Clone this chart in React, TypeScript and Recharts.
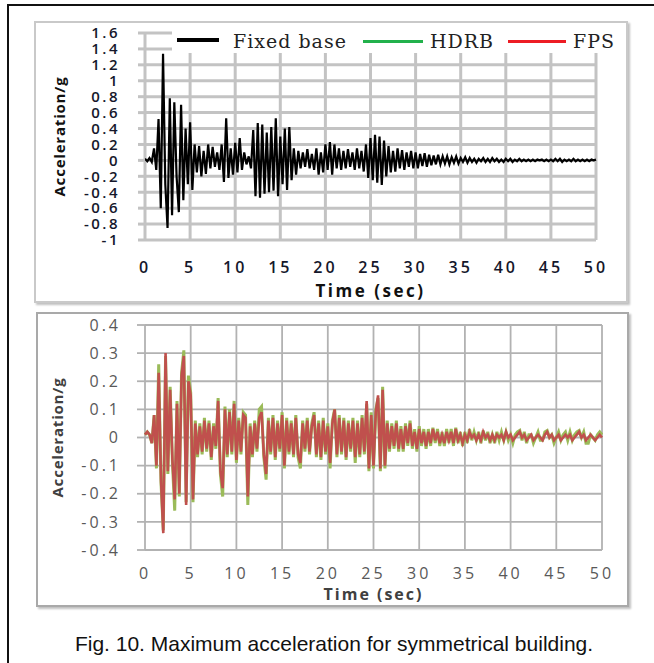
import React from 'react';
import { LineChart, Line, XAxis, YAxis, CartesianGrid } from 'recharts';

// records are sampled every 0.25 s, from 0 to 50 s
const DT = 0.25;

// Fixed base acceleration (g), 4 samples per second
const fixedBase = [
    0.02, -0.01, 0.03, -0.02,
    0.15, -0.12, 0.52, -0.6,
    1.34, -0.3, -0.85, 0.78,
    -0.69, 0.73, -0.2, -0.65,
    0.7, -0.5, 0.4, -0.3,
    0.48, -0.37, 0.2, -0.15,
    0.18, -0.2, 0.12, -0.17,
    0.2, -0.1, 0.17, -0.08,
    0.1, -0.12, 0.2, -0.27,
    0.53, -0.22, 0.15, -0.18,
    0.22, -0.15, 0.28, -0.12,
    0.1, -0.05, 0.05, -0.1,
    0.38, -0.45, 0.47, -0.47,
    0.45, -0.42, 0.35, -0.4,
    0.42, -0.38, 0.53, -0.45,
    0.3, -0.3, 0.4, -0.37,
    0.42, -0.25, 0.15, -0.18,
    0.12, -0.1, 0.1, -0.08,
    0.14, -0.1, 0.08, -0.12,
    0.15, -0.18, 0.1, -0.15,
    0.2, -0.12, 0.23, -0.18,
    0.2, -0.1, 0.15, -0.12,
    0.12, -0.1, 0.14, -0.08,
    0.1, -0.12, 0.15, -0.1,
    0.12, -0.14, 0.2, -0.22,
    0.28, -0.25, 0.32, -0.28,
    0.3, -0.31, 0.25, -0.2,
    0.18, -0.15, 0.12, -0.14,
    0.15, -0.1, 0.13, -0.12,
    0.1, -0.08, 0.12, -0.1,
    0.1, -0.1, 0.08, -0.07,
    0.09, -0.08, 0.07, -0.06,
    0.06, -0.05, 0.07, -0.05,
    0.05, -0.04, 0.05, -0.05,
    0.04, -0.03, 0.05, -0.04,
    0.03, -0.02, 0.04, -0.03,
    0.03, -0.02, 0.02, -0.03,
    0.02, -0.01, 0.03, -0.02,
    0.02, -0.02, 0.03, -0.01,
    0.02, -0.02, 0.01, -0.02,
    0.02, -0.01, 0.02, -0.02,
    0.01, -0.01, 0.02, -0.01,
    0.01, -0.01, 0.01, -0.01,
    0.01, -0.01, 0.01, 0,
    0.01, -0.01, 0.01, -0.01,
    0.01, -0.01, 0.02, -0.01,
    0.02, -0.02, 0.01, -0.01,
    0.01, -0.01, 0.02, -0.01,
    0.01, -0.01, 0.01, -0.01,
    0.01, -0.01, 0.01, 0,
    0.01,
];

// HDRB isolated building
const hdrb = [
    0.01, 0.02, 0.01, -0.02,
    0.08, -0.11, 0.26, -0.16,
    -0.33, 0.29, -0.13, 0.18,
    -0.09, -0.26, 0.13, -0.21,
    0.23, 0.31, -0.23, 0.22,
    0.16, -0.23, 0.06, -0.07,
    0.05, -0.06, 0.07, -0.05,
    0.06, -0.08, 0.05, -0.04,
    0.14, -0.13, -0.21, 0.11,
    -0.07, 0.1, -0.06, 0.13,
    -0.09, 0.07, -0.06, 0.09,
    0.08, -0.24, 0.05, -0.07,
    0.06, -0.05, 0.1, 0.11,
    -0.07, -0.15, 0.07, -0.06,
    0.08, -0.08, 0.06, -0.05,
    0.09, -0.11, 0.07, -0.06,
    0.06, -0.07, 0.08, -0.07,
    -0.11, 0.06, -0.05, 0.07,
    -0.06, 0.05, 0.09, -0.07,
    0.06, -0.08, 0.07, -0.06,
    0.05, -0.11, 0.06, 0.1,
    -0.07, 0.08, -0.06, 0.07,
    -0.08, 0.06, -0.05, 0.07,
    -0.09, 0.06, -0.07, 0.08,
    -0.06, 0.12, -0.12, 0.09,
    -0.11, 0.1, 0.14, -0.12,
    0.18, -0.11, 0.06, -0.05,
    0.05, -0.04, 0.06, -0.05,
    0.04, -0.05, 0.05, -0.03,
    0.06, -0.04, 0.03, -0.05,
    0.04, -0.03, 0.03, -0.04,
    0.03, -0.03, 0.035, -0.02,
    0.03, -0.03, 0.02, -0.03,
    0.03, -0.02, 0.03, -0.03,
    0.035, -0.02, 0.02, -0.03,
    0.02, -0.02, 0.03, -0.01,
    0.02, -0.01, 0.02, -0.02,
    0.025, -0.01, 0.02, -0.02,
    0.01, -0.02, 0.02, -0.01,
    0.02, -0.01, 0.02, -0.01,
    0.01, -0.02, 0.01, 0.02,
    0.025, -0.01, 0.02, -0.02,
    0.01, 0.01, -0.02, 0,
    0.02, -0.01, -0.01, 0.02,
    0.025, 0, 0.01, -0.02,
    0, 0.02, -0.01, 0.01,
    0.02, -0.01, 0.02, -0.01,
    0.01, 0.02, 0.025, 0,
    0.02, -0.02, -0.02, 0.01,
    0, -0.01, 0.01, 0.02,
    0.01,
];

// FPS isolated building
const fps = [
    0.01, 0.02, 0.01, -0.02,
    0.08, -0.1, 0.23, -0.15,
    -0.34, 0.3, -0.12, 0.17,
    -0.08, -0.22, 0.12, -0.2,
    0.22, 0.29, -0.24, 0.2,
    0.15, -0.22, 0.05, -0.06,
    0.04, -0.05, 0.06, -0.04,
    0.05, -0.07, 0.04, -0.03,
    0.13, -0.12, -0.18, 0.1,
    -0.06, 0.09, -0.05, 0.12,
    -0.08, 0.06, -0.05, 0.08,
    0.07, -0.21, 0.04, -0.06,
    0.05, -0.04, 0.07, 0.09,
    -0.06, -0.13, 0.06, -0.05,
    0.07, -0.07, 0.05, -0.04,
    0.08, -0.1, 0.06, -0.05,
    0.05, -0.06, 0.07, -0.06,
    -0.09, 0.05, -0.04, 0.06,
    -0.05, 0.04, 0.08, -0.06,
    0.05, -0.07, 0.06, -0.05,
    0.04, -0.09, 0.05, 0.1,
    -0.06, 0.07, -0.05, 0.06,
    -0.07, 0.05, -0.04, 0.06,
    -0.07, 0.05, -0.06, 0.07,
    -0.05, 0.13, -0.11, 0.08,
    -0.1, 0.09, 0.15, -0.11,
    0.17, -0.1, 0.05, -0.04,
    0.04, -0.03, 0.05, -0.04,
    0.03, -0.04, 0.04, -0.02,
    0.05, -0.03, 0.02, -0.04,
    0.03, -0.02, 0.02, -0.03,
    0.02, -0.02, 0.03, -0.01,
    0.02, -0.02, 0.01, -0.02,
    0.02, -0.01, 0.02, -0.02,
    0.03, -0.01, 0.01, -0.02,
    0.01, -0.01, 0.02, 0,
    0.01, -0.01, 0.01, -0.01,
    0.02, 0, 0.01, -0.01,
    0.01, -0.01, 0.01, 0,
    0.01, -0.01, 0.02, 0,
    0.01, -0.01, 0, 0.01,
    0.02, 0, 0.01, -0.01,
    0, 0.01, -0.01, 0,
    0.01, 0, -0.01, 0.01,
    0.02, 0, 0.01, -0.01,
    0, 0.01, -0.01, 0,
    0.01, 0, 0.01, -0.01,
    0, 0.01, 0.02, 0,
    0.01, -0.01, 0, 0.01,
    0, -0.01, 0, 0.01,
    0,
];

const timeTicks = [0, 5, 10, 15, 20, 25, 30, 35, 40, 45, 50];
const topTicks = [-1, -0.8, -0.6, -0.4, -0.2, 0, 0.2, 0.4, 0.6, 0.8, 1, 1.2, 1.4, 1.6];
const bottomTicks = [-0.4, -0.3, -0.2, -0.1, 0, 0.1, 0.2, 0.3, 0.4];

const topData = fixedBase.map((v, i) => ({ t: i * DT, fixed: v }));
const bottomData = hdrb.map((v, i) => ({ t: i * DT, hdrb: v, fps: fps[i] }));

const fmt = (v: number) => String(parseFloat(v.toFixed(1)));

const SANS = '"Open Sans", "DejaVu Sans", sans-serif';
const SERIF = '"DejaVu Serif", serif';

const abs = (left: number, top: number, width: number, height: number): React.CSSProperties => ({
    position: 'absolute', left, top, width, height,
});

const App = () => {
    return (
        <div style={{ ...abs(0, 0, 654, 663), overflow: 'hidden', background: '#fff' }}>
            {/* figure frame */}
            <div style={{ ...abs(7, 4, 700, 700), border: '2px solid #111' }} />

            {/* top panel: fixed base */}
            <div style={{ ...abs(34, 21, 594, 282), boxSizing: 'border-box', border: '2px solid #c9c9c9', boxShadow: '2px 2px 2px rgba(0,0,0,0.25)' }} />
            <div style={abs(34, 21, 594, 282)}>
                <LineChart width={594} height={282} data={topData} margin={{ top: 12, right: 32, left: 0, bottom: 0 }}>
                    <CartesianGrid stroke="#c3c3c3" strokeWidth={3} />
                    <XAxis
                        type="number"
                        dataKey="t"
                        domain={[0, 50]}
                        ticks={timeTicks}
                        interval={0}
                        axisLine={false}
                        tickLine={false}
                        tickSize={0}
                        tickMargin={22}
                        height={63}
                        tick={{ fill: '#15172b', fontSize: 16, fontWeight: 600, fontFamily: SANS, letterSpacing: 3 }}
                        label={{ value: 'Time (sec)', position: 'insideBottom', offset: 6, style: { fontWeight: 700, fontSize: 17, fontFamily: SANS, fill: '#111', letterSpacing: 2.5 } }}
                    />
                    <YAxis
                        type="number"
                        domain={[-1, 1.6]}
                        ticks={topTicks}
                        interval={0}
                        tickFormatter={fmt}
                        axisLine={false}
                        tickLine={{ stroke: '#c3c3c3', strokeWidth: 3 }}
                        tickSize={7}
                        tickMargin={18}
                        width={111}
                        tick={{ fill: '#15172b', fontSize: 15, fontWeight: 600, fontFamily: SANS, letterSpacing: 2.5 }}
                        label={{ value: 'Acceleration/g', angle: -90, position: 'insideLeft', offset: 26, style: { textAnchor: 'middle', fontWeight: 700, fontSize: 15, fontFamily: SANS, fill: '#111', letterSpacing: 0.8 } }}
                    />
                    <Line type="linear" dataKey="fixed" stroke="#000" strokeWidth={2.2} dot={false} isAnimationActive={false} />
                </LineChart>
            </div>

            {/* legend of the top panel */}
            <div style={{ ...abs(172, 30, 454, 23), background: '#fff', fontFamily: SERIF, fontSize: 19, lineHeight: '22px', color: '#222', letterSpacing: 1 }}>
                <div style={{ ...abs(5, 8, 42, 4), background: '#000' }} />
                <span style={{ position: 'absolute', left: 61, top: 0, whiteSpace: 'nowrap' }}>Fixed base</span>
                <div style={{ ...abs(191, 10, 60, 3), background: '#22b14c' }} />
                <span style={{ position: 'absolute', left: 258, top: 0 }}>HDRB</span>
                <div style={{ ...abs(336, 10, 58, 3), background: '#ed1c24' }} />
                <span style={{ position: 'absolute', left: 401, top: 0 }}>FPS</span>
            </div>

            {/* bottom panel: HDRB and FPS */}
            <div style={{ ...abs(36, 312, 593, 295), boxSizing: 'border-box', border: '2px solid #a9a9a9', boxShadow: '2px 2px 2px rgba(0,0,0,0.25)' }} />
            <div style={abs(36, 312, 593, 295)}>
                <LineChart width={593} height={295} data={bottomData} margin={{ top: 13, right: 27, left: 0, bottom: 0 }}>
                    <CartesianGrid stroke="#b2b2b2" strokeWidth={1.8} />
                    <XAxis
                        type="number"
                        dataKey="t"
                        domain={[0, 50]}
                        ticks={timeTicks}
                        interval={0}
                        axisLine={false}
                        tickLine={false}
                        tickSize={0}
                        tickMargin={18}
                        height={57}
                        tick={{ fill: '#595959', fontSize: 16, fontFamily: SANS, letterSpacing: 3 }}
                        label={{ value: 'Time (sec)', position: 'insideBottom', offset: 7, style: { fontWeight: 700, fontSize: 16, fontFamily: SANS, fill: '#404040', letterSpacing: 2 } }}
                    />
                    <YAxis
                        type="number"
                        domain={[-0.4, 0.4]}
                        ticks={bottomTicks}
                        interval={0}
                        tickFormatter={fmt}
                        axisLine={false}
                        tickLine={{ stroke: '#b2b2b2', strokeWidth: 1.8 }}
                        tickSize={8}
                        tickMargin={16}
                        width={109}
                        tick={{ fill: '#595959', fontSize: 16, fontFamily: SANS, letterSpacing: 3 }}
                        label={{ value: 'Acceleration/g', angle: -90, position: 'insideLeft', offset: 22, style: { textAnchor: 'middle', fontWeight: 700, fontSize: 15, fontFamily: SANS, fill: '#404040', letterSpacing: 0.8 } }}
                    />
                    <Line type="linear" dataKey="hdrb" stroke="#9bbb59" strokeWidth={3} dot={false} isAnimationActive={false} />
                    <Line type="linear" dataKey="fps" stroke="#c0504d" strokeWidth={2.6} dot={false} isAnimationActive={false} />
                </LineChart>
            </div>

            {/* caption */}
            <div style={{ position: 'absolute', left: 0, top: 632, width: 668, textAlign: 'center', fontFamily: '"Liberation Sans", Arial, sans-serif', fontSize: 21, lineHeight: '24px', color: '#111', whiteSpace: 'nowrap' }}>
                Fig. 10. Maximum acceleration for symmetrical building.
            </div>
        </div>
    );
};

export default App;
